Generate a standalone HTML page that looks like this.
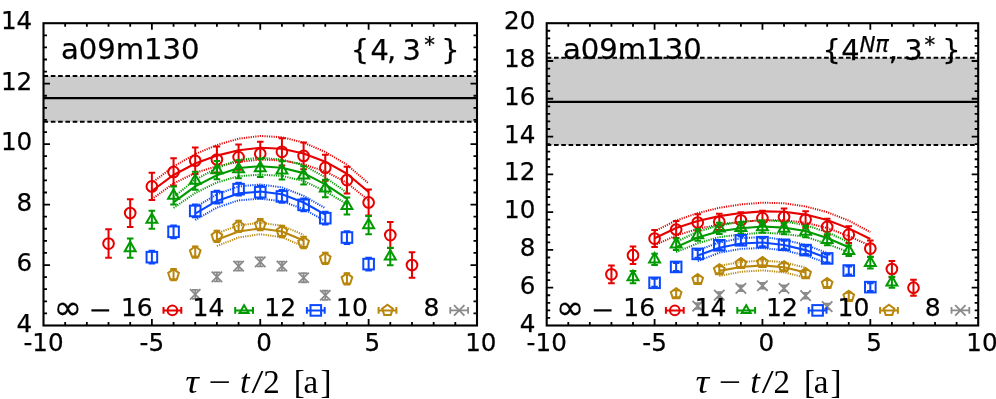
<!DOCTYPE html>
<html><head><meta charset="utf-8"><title>plot</title>
<style>html,body{margin:0;padding:0;background:#fff}svg{display:block}text{font-family:"DejaVu Sans","Liberation Sans",sans-serif;fill:#000;stroke:#000;stroke-width:0.25px}text.sf{font-family:"Liberation Serif","DejaVu Serif",serif;stroke:none}</style>
</head><body>
<svg width="996" height="399" viewBox="0 0 996 399">
<rect width="996" height="399" fill="#fff"/>
<rect x="43.5" y="76.1" width="433.5" height="45.65" fill="#cccccc"/>
<path d="M43.5 76.1H477M43.5 121.75H477" stroke="#000" stroke-width="2" stroke-dasharray="4.6 2.7" fill="none"/>
<path d="M43.5 98.17H477" stroke="#000" stroke-width="2.2" fill="none"/>
<path d="M151.88 182.81 L173.55 166.49 L195.22 154.1 L216.9 145.03 L238.58 138.68 L260.25 135.96 L281.93 137.17 L303.6 142.61 L325.28 151.98 L346.95 164.68 L368.62 183.42 M151.88 199.14 L173.55 183.42 L195.22 172.84 L216.9 166.19 L238.58 161.96 L260.25 159.54 L281.93 160.44 L303.6 164.37 L325.28 171.33 L346.95 182.81 L368.62 200.35" stroke="#e60000" stroke-width="2" stroke-dasharray="1.15 1.15" fill="none"/>
<path d="M151.88 190.98 L173.55 174.95 L195.22 163.47 L216.9 155.61 L238.58 150.32 L260.25 147.75 L281.93 148.81 L303.6 153.49 L325.28 161.65 L346.95 173.75 L368.62 191.88" stroke="#e60000" stroke-width="2.1" fill="none" stroke-linejoin="round"/>
<path d="M108.53 229.37V257.78M105.23 229.37h6.6M105.23 257.78h6.6" stroke="#e60000" stroke-width="2.0" fill="none"/>
<circle cx="108.53" cy="243.58" r="5.35" stroke="#e60000" stroke-width="2.0" fill="none"/>
<path d="M130.2 199.14V226.95M126.9 199.14h6.6M126.9 226.95h6.6" stroke="#e60000" stroke-width="2.0" fill="none"/>
<circle cx="130.2" cy="213.04" r="5.35" stroke="#e60000" stroke-width="2.0" fill="none"/>
<path d="M151.88 172.84V200.05M148.57 172.84h6.6M148.57 200.05h6.6" stroke="#e60000" stroke-width="2.0" fill="none"/>
<circle cx="151.88" cy="186.44" r="5.35" stroke="#e60000" stroke-width="2.0" fill="none"/>
<path d="M173.55 158.33V185.54M170.25 158.33h6.6M170.25 185.54h6.6" stroke="#e60000" stroke-width="2.0" fill="none"/>
<circle cx="173.55" cy="171.93" r="5.35" stroke="#e60000" stroke-width="2.0" fill="none"/>
<path d="M195.22 147.45V174.05M191.92 147.45h6.6M191.92 174.05h6.6" stroke="#e60000" stroke-width="2.0" fill="none"/>
<circle cx="195.22" cy="160.75" r="5.35" stroke="#e60000" stroke-width="2.0" fill="none"/>
<path d="M216.9 146.54V172.54M213.6 146.54h6.6M213.6 172.54h6.6" stroke="#e60000" stroke-width="2.0" fill="none"/>
<circle cx="216.9" cy="159.54" r="5.35" stroke="#e60000" stroke-width="2.0" fill="none"/>
<path d="M238.58 144.42V169.82M235.28 144.42h6.6M235.28 169.82h6.6" stroke="#e60000" stroke-width="2.0" fill="none"/>
<circle cx="238.58" cy="157.12" r="5.35" stroke="#e60000" stroke-width="2.0" fill="none"/>
<path d="M260.25 141.7V165.89M256.95 141.7h6.6M256.95 165.89h6.6" stroke="#e60000" stroke-width="2.0" fill="none"/>
<circle cx="260.25" cy="153.79" r="5.35" stroke="#e60000" stroke-width="2.0" fill="none"/>
<path d="M281.93 138.23V165.43M278.62 138.23h6.6M278.62 165.43h6.6" stroke="#e60000" stroke-width="2.0" fill="none"/>
<circle cx="281.93" cy="151.83" r="5.35" stroke="#e60000" stroke-width="2.0" fill="none"/>
<path d="M303.6 142.61V169.21M300.3 142.61h6.6M300.3 169.21h6.6" stroke="#e60000" stroke-width="2.0" fill="none"/>
<circle cx="303.6" cy="155.91" r="5.35" stroke="#e60000" stroke-width="2.0" fill="none"/>
<path d="M325.28 154.7V180.7M321.98 154.7h6.6M321.98 180.7h6.6" stroke="#e60000" stroke-width="2.0" fill="none"/>
<circle cx="325.28" cy="167.7" r="5.35" stroke="#e60000" stroke-width="2.0" fill="none"/>
<path d="M346.95 166.79V193.39M343.65 166.79h6.6M343.65 193.39h6.6" stroke="#e60000" stroke-width="2.0" fill="none"/>
<circle cx="346.95" cy="180.09" r="5.35" stroke="#e60000" stroke-width="2.0" fill="none"/>
<path d="M368.62 189.47V215.46M365.32 189.47h6.6M365.32 215.46h6.6" stroke="#e60000" stroke-width="2.0" fill="none"/>
<circle cx="368.62" cy="202.46" r="5.35" stroke="#e60000" stroke-width="2.0" fill="none"/>
<path d="M390.3 222.11V248.11M387 222.11h6.6M387 248.11h6.6" stroke="#e60000" stroke-width="2.0" fill="none"/>
<circle cx="390.3" cy="235.11" r="5.35" stroke="#e60000" stroke-width="2.0" fill="none"/>
<path d="M411.98 252.34V277.74M408.68 252.34h6.6M408.68 277.74h6.6" stroke="#e60000" stroke-width="2.0" fill="none"/>
<circle cx="411.98" cy="265.04" r="5.35" stroke="#e60000" stroke-width="2.0" fill="none"/>
<path d="M173.55 197.02 L195.22 179.79 L216.9 168 L238.58 159.84 L260.25 157.72 L281.93 159.54 L303.6 165.28 L325.28 177.37 L346.95 192.79 M173.55 207.91 L195.22 193.09 L216.9 182.51 L238.58 176.16 L260.25 174.65 L281.93 175.86 L303.6 181 L325.28 191.28 L346.95 204.28" stroke="#009a00" stroke-width="2" stroke-dasharray="1.15 1.15" fill="none"/>
<path d="M173.55 202.46 L195.22 186.44 L216.9 175.26 L238.58 168 L260.25 166.19 L281.93 167.7 L303.6 173.14 L325.28 184.33 L346.95 198.53" stroke="#009a00" stroke-width="2.1" fill="none" stroke-linejoin="round"/>
<path d="M130.2 238.44V257.78M126.9 238.44h6.6M126.9 257.78h6.6" stroke="#009a00" stroke-width="2.0" fill="none"/>
<path d="M130.2 241.81L124.74 251.26L135.66 251.26Z" stroke="#009a00" stroke-width="2.0" fill="none" stroke-linejoin="miter"/>
<path d="M151.88 210.63V228.76M148.57 210.63h6.6M148.57 228.76h6.6" stroke="#009a00" stroke-width="2.0" fill="none"/>
<path d="M151.88 213.39L146.42 222.84L157.33 222.84Z" stroke="#009a00" stroke-width="2.0" fill="none" stroke-linejoin="miter"/>
<path d="M173.55 186.44V204.58M170.25 186.44h6.6M170.25 204.58h6.6" stroke="#009a00" stroke-width="2.0" fill="none"/>
<path d="M173.55 189.21L168.09 198.66L179.01 198.66Z" stroke="#009a00" stroke-width="2.0" fill="none" stroke-linejoin="miter"/>
<path d="M195.22 171.63V189.77M191.92 171.63h6.6M191.92 189.77h6.6" stroke="#009a00" stroke-width="2.0" fill="none"/>
<path d="M195.22 174.4L189.77 183.85L200.68 183.85Z" stroke="#009a00" stroke-width="2.0" fill="none" stroke-linejoin="miter"/>
<path d="M216.9 161.05V179.19M213.6 161.05h6.6M213.6 179.19h6.6" stroke="#009a00" stroke-width="2.0" fill="none"/>
<path d="M216.9 163.82L211.44 173.27L222.36 173.27Z" stroke="#009a00" stroke-width="2.0" fill="none" stroke-linejoin="miter"/>
<path d="M238.58 160.14V178.28M235.28 160.14h6.6M235.28 178.28h6.6" stroke="#009a00" stroke-width="2.0" fill="none"/>
<path d="M238.58 162.91L233.12 172.36L244.03 172.36Z" stroke="#009a00" stroke-width="2.0" fill="none" stroke-linejoin="miter"/>
<path d="M260.25 158.93V177.07M256.95 158.93h6.6M256.95 177.07h6.6" stroke="#009a00" stroke-width="2.0" fill="none"/>
<path d="M260.25 161.7L254.79 171.15L265.71 171.15Z" stroke="#009a00" stroke-width="2.0" fill="none" stroke-linejoin="miter"/>
<path d="M281.93 161.35V179.49M278.62 161.35h6.6M278.62 179.49h6.6" stroke="#009a00" stroke-width="2.0" fill="none"/>
<path d="M281.93 164.12L276.47 173.57L287.38 173.57Z" stroke="#009a00" stroke-width="2.0" fill="none" stroke-linejoin="miter"/>
<path d="M303.6 166.34V184.48M300.3 166.34h6.6M300.3 184.48h6.6" stroke="#009a00" stroke-width="2.0" fill="none"/>
<path d="M303.6 169.11L298.14 178.56L309.06 178.56Z" stroke="#009a00" stroke-width="2.0" fill="none" stroke-linejoin="miter"/>
<path d="M325.28 179.64V197.17M321.98 179.64h6.6M321.98 197.17h6.6" stroke="#009a00" stroke-width="2.0" fill="none"/>
<path d="M325.28 182.11L319.82 191.56L330.73 191.56Z" stroke="#009a00" stroke-width="2.0" fill="none" stroke-linejoin="miter"/>
<path d="M346.95 197.48V214.4M343.65 197.48h6.6M343.65 214.4h6.6" stroke="#009a00" stroke-width="2.0" fill="none"/>
<path d="M346.95 199.64L341.49 209.09L352.41 209.09Z" stroke="#009a00" stroke-width="2.0" fill="none" stroke-linejoin="miter"/>
<path d="M368.62 216.07V234.21M365.32 216.07h6.6M365.32 234.21h6.6" stroke="#009a00" stroke-width="2.0" fill="none"/>
<path d="M368.62 218.84L363.17 228.29L374.08 228.29Z" stroke="#009a00" stroke-width="2.0" fill="none" stroke-linejoin="miter"/>
<path d="M390.3 247.66V265.19M387 247.66h6.6M387 265.19h6.6" stroke="#009a00" stroke-width="2.0" fill="none"/>
<path d="M390.3 250.12L384.84 259.57L395.76 259.57Z" stroke="#009a00" stroke-width="2.0" fill="none" stroke-linejoin="miter"/>
<path d="M195.22 207.3 L216.9 194.3 L238.58 186.44 L260.25 184.48 L281.93 187.35 L303.6 195.81 L325.28 208.21 M195.22 220 L216.9 207.6 L238.58 200.35 L260.25 198.69 L281.93 201.25 L303.6 209.11 L325.28 220.9" stroke="#0a48ff" stroke-width="2" stroke-dasharray="1.15 1.15" fill="none"/>
<path d="M195.22 213.65 L216.9 200.95 L238.58 193.39 L260.25 191.58 L281.93 194.3 L303.6 202.46 L325.28 214.56" stroke="#0a48ff" stroke-width="2.1" fill="none" stroke-linejoin="round"/>
<path d="M151.88 250.83V263.53M148.57 250.83h6.6M148.57 263.53h6.6" stroke="#0a48ff" stroke-width="2.0" fill="none"/>
<rect x="146.57" y="251.88" width="10.6" height="10.6" stroke="#0a48ff" stroke-width="2.0" fill="none"/>
<path d="M173.55 225.44V238.14M170.25 225.44h6.6M170.25 238.14h6.6" stroke="#0a48ff" stroke-width="2.0" fill="none"/>
<rect x="168.25" y="226.49" width="10.6" height="10.6" stroke="#0a48ff" stroke-width="2.0" fill="none"/>
<path d="M195.22 204.58V217.28M191.92 204.58h6.6M191.92 217.28h6.6" stroke="#0a48ff" stroke-width="2.0" fill="none"/>
<rect x="189.92" y="205.63" width="10.6" height="10.6" stroke="#0a48ff" stroke-width="2.0" fill="none"/>
<path d="M216.9 190.83V203.52M213.6 190.83h6.6M213.6 203.52h6.6" stroke="#0a48ff" stroke-width="2.0" fill="none"/>
<rect x="211.6" y="191.87" width="10.6" height="10.6" stroke="#0a48ff" stroke-width="2.0" fill="none"/>
<path d="M238.58 182.81V195.51M235.28 182.81h6.6M235.28 195.51h6.6" stroke="#0a48ff" stroke-width="2.0" fill="none"/>
<rect x="233.28" y="183.86" width="10.6" height="10.6" stroke="#0a48ff" stroke-width="2.0" fill="none"/>
<path d="M260.25 185.84V198.53M256.95 185.84h6.6M256.95 198.53h6.6" stroke="#0a48ff" stroke-width="2.0" fill="none"/>
<rect x="254.95" y="186.89" width="10.6" height="10.6" stroke="#0a48ff" stroke-width="2.0" fill="none"/>
<path d="M281.93 190.07V202.77M278.62 190.07h6.6M278.62 202.77h6.6" stroke="#0a48ff" stroke-width="2.0" fill="none"/>
<rect x="276.62" y="191.12" width="10.6" height="10.6" stroke="#0a48ff" stroke-width="2.0" fill="none"/>
<path d="M303.6 198.53V211.23M300.3 198.53h6.6M300.3 211.23h6.6" stroke="#0a48ff" stroke-width="2.0" fill="none"/>
<rect x="298.3" y="199.58" width="10.6" height="10.6" stroke="#0a48ff" stroke-width="2.0" fill="none"/>
<path d="M325.28 211.84V224.53M321.98 211.84h6.6M321.98 224.53h6.6" stroke="#0a48ff" stroke-width="2.0" fill="none"/>
<rect x="319.98" y="212.88" width="10.6" height="10.6" stroke="#0a48ff" stroke-width="2.0" fill="none"/>
<path d="M346.95 231.18V243.88M343.65 231.18h6.6M343.65 243.88h6.6" stroke="#0a48ff" stroke-width="2.0" fill="none"/>
<rect x="341.65" y="232.23" width="10.6" height="10.6" stroke="#0a48ff" stroke-width="2.0" fill="none"/>
<path d="M368.62 257.78V270.48M365.32 257.78h6.6M365.32 270.48h6.6" stroke="#0a48ff" stroke-width="2.0" fill="none"/>
<rect x="363.32" y="258.83" width="10.6" height="10.6" stroke="#0a48ff" stroke-width="2.0" fill="none"/>
<path d="M216.9 233.3 L238.58 225.44 L260.25 222.72 L281.93 225.74 L303.6 234.81 M216.9 246 L238.58 237.53 L260.25 234.21 L281.93 237.23 L303.6 246.3" stroke="#b8860b" stroke-width="2" stroke-dasharray="1.15 1.15" fill="none"/>
<path d="M216.9 239.65 L238.58 231.48 L260.25 228.46 L281.93 231.48 L303.6 240.55" stroke="#b8860b" stroke-width="2.1" fill="none" stroke-linejoin="round"/>
<path d="M173.55 269.06V280.37M170.25 269.06h6.6M170.25 280.37h6.6" stroke="#b8860b" stroke-width="2.0" fill="none"/>
<path d="M173.55 269.11L178.88 272.98L176.84 279.24L170.26 279.24L168.22 272.98Z" stroke="#b8860b" stroke-width="2.0" fill="none"/>
<path d="M195.22 246.39V257.69M191.92 246.39h6.6M191.92 257.69h6.6" stroke="#b8860b" stroke-width="2.0" fill="none"/>
<path d="M195.22 246.44L200.55 250.31L198.52 256.57L191.93 256.57L189.9 250.31Z" stroke="#b8860b" stroke-width="2.0" fill="none"/>
<path d="M216.9 230.67V241.97M213.6 230.67h6.6M213.6 241.97h6.6" stroke="#b8860b" stroke-width="2.0" fill="none"/>
<path d="M216.9 230.72L222.23 234.59L220.19 240.85L213.61 240.85L211.57 234.59Z" stroke="#b8860b" stroke-width="2.0" fill="none"/>
<path d="M238.58 220.69V232M235.28 220.69h6.6M235.28 232h6.6" stroke="#b8860b" stroke-width="2.0" fill="none"/>
<path d="M238.58 220.75L243.9 224.62L241.87 230.88L235.28 230.88L233.25 224.62Z" stroke="#b8860b" stroke-width="2.0" fill="none"/>
<path d="M260.25 219.03V230.34M256.95 219.03h6.6M256.95 230.34h6.6" stroke="#b8860b" stroke-width="2.0" fill="none"/>
<path d="M260.25 219.08L265.58 222.95L263.54 229.21L256.96 229.21L254.92 222.95Z" stroke="#b8860b" stroke-width="2.0" fill="none"/>
<path d="M281.93 225.83V237.14M278.62 225.83h6.6M278.62 237.14h6.6" stroke="#b8860b" stroke-width="2.0" fill="none"/>
<path d="M281.93 225.88L287.25 229.75L285.22 236.02L278.63 236.02L276.6 229.75Z" stroke="#b8860b" stroke-width="2.0" fill="none"/>
<path d="M303.6 236.87V248.17M300.3 236.87h6.6M300.3 248.17h6.6" stroke="#b8860b" stroke-width="2.0" fill="none"/>
<path d="M303.6 236.92L308.93 240.79L306.89 247.05L300.31 247.05L298.27 240.79Z" stroke="#b8860b" stroke-width="2.0" fill="none"/>
<path d="M325.28 252.74V264.04M321.98 252.74h6.6M321.98 264.04h6.6" stroke="#b8860b" stroke-width="2.0" fill="none"/>
<path d="M325.28 252.79L330.6 256.66L328.57 262.92L321.98 262.92L319.95 256.66Z" stroke="#b8860b" stroke-width="2.0" fill="none"/>
<path d="M346.95 273.29V284.6M343.65 273.29h6.6M343.65 284.6h6.6" stroke="#b8860b" stroke-width="2.0" fill="none"/>
<path d="M346.95 273.35L352.28 277.22L350.24 283.48L343.66 283.48L341.62 277.22Z" stroke="#b8860b" stroke-width="2.0" fill="none"/>
<path d="M195.22 289.83V298.9M191.92 289.83h6.6M191.92 298.9h6.6" stroke="#8a8a8a" stroke-width="1.8" fill="none"/>
<path d="M190.03 289.16L200.42 299.56M190.03 299.56L200.42 289.16" stroke="#8a8a8a" stroke-width="1.8" fill="none"/>
<path d="M216.9 272.3V281.36M213.6 272.3h6.6M213.6 281.36h6.6" stroke="#8a8a8a" stroke-width="1.8" fill="none"/>
<path d="M211.7 271.63L222.1 282.03M211.7 282.03L222.1 271.63" stroke="#8a8a8a" stroke-width="1.8" fill="none"/>
<path d="M238.58 261.53V270.6M235.28 261.53h6.6M235.28 270.6h6.6" stroke="#8a8a8a" stroke-width="1.8" fill="none"/>
<path d="M233.38 260.87L243.78 271.27M233.38 271.27L243.78 260.87" stroke="#8a8a8a" stroke-width="1.8" fill="none"/>
<path d="M260.25 257.33V266.4M256.95 257.33h6.6M256.95 266.4h6.6" stroke="#8a8a8a" stroke-width="1.8" fill="none"/>
<path d="M255.05 256.67L265.45 267.07M255.05 267.07L265.45 256.67" stroke="#8a8a8a" stroke-width="1.8" fill="none"/>
<path d="M281.93 261.53V270.6M278.62 261.53h6.6M278.62 270.6h6.6" stroke="#8a8a8a" stroke-width="1.8" fill="none"/>
<path d="M276.73 260.87L287.12 271.27M276.73 271.27L287.12 260.87" stroke="#8a8a8a" stroke-width="1.8" fill="none"/>
<path d="M303.6 273.2V282.27M300.3 273.2h6.6M300.3 282.27h6.6" stroke="#8a8a8a" stroke-width="1.8" fill="none"/>
<path d="M298.4 272.54L308.8 282.94M298.4 282.94L308.8 272.54" stroke="#8a8a8a" stroke-width="1.8" fill="none"/>
<path d="M325.28 290.74V299.8M321.98 290.74h6.6M321.98 299.8h6.6" stroke="#8a8a8a" stroke-width="1.8" fill="none"/>
<path d="M320.08 290.07L330.48 300.47M320.08 300.47L330.48 290.07" stroke="#8a8a8a" stroke-width="1.8" fill="none"/>
<rect x="43.5" y="23.2" width="433.5" height="302.3" fill="none" stroke="#000" stroke-width="2.1"/>
<path d="M65.17 325.5v-3.5M65.17 23.2v3.5M86.85 325.5v-3.5M86.85 23.2v3.5M108.53 325.5v-3.5M108.53 23.2v3.5M130.2 325.5v-3.5M130.2 23.2v3.5M151.88 325.5v-6.5M151.88 23.2v6.5M173.55 325.5v-3.5M173.55 23.2v3.5M195.22 325.5v-3.5M195.22 23.2v3.5M216.9 325.5v-3.5M216.9 23.2v3.5M238.58 325.5v-3.5M238.58 23.2v3.5M260.25 325.5v-6.5M260.25 23.2v6.5M281.93 325.5v-3.5M281.93 23.2v3.5M303.6 325.5v-3.5M303.6 23.2v3.5M325.28 325.5v-3.5M325.28 23.2v3.5M346.95 325.5v-3.5M346.95 23.2v3.5M368.62 325.5v-6.5M368.62 23.2v6.5M390.3 325.5v-3.5M390.3 23.2v3.5M411.98 325.5v-3.5M411.98 23.2v3.5M433.65 325.5v-3.5M433.65 23.2v3.5M455.32 325.5v-3.5M455.32 23.2v3.5M43.5 313.41h3.5M477 313.41h-3.5M43.5 301.32h3.5M477 301.32h-3.5M43.5 289.22h3.5M477 289.22h-3.5M43.5 277.13h3.5M477 277.13h-3.5M43.5 265.04h6.5M477 265.04h-6.5M43.5 252.95h3.5M477 252.95h-3.5M43.5 240.86h3.5M477 240.86h-3.5M43.5 228.76h3.5M477 228.76h-3.5M43.5 216.67h3.5M477 216.67h-3.5M43.5 204.58h6.5M477 204.58h-6.5M43.5 192.49h3.5M477 192.49h-3.5M43.5 180.4h3.5M477 180.4h-3.5M43.5 168.3h3.5M477 168.3h-3.5M43.5 156.21h3.5M477 156.21h-3.5M43.5 144.12h6.5M477 144.12h-6.5M43.5 132.03h3.5M477 132.03h-3.5M43.5 119.94h3.5M477 119.94h-3.5M43.5 107.84h3.5M477 107.84h-3.5M43.5 95.75h3.5M477 95.75h-3.5M43.5 83.66h6.5M477 83.66h-6.5M43.5 71.57h3.5M477 71.57h-3.5M43.5 59.48h3.5M477 59.48h-3.5M43.5 47.38h3.5M477 47.38h-3.5M43.5 35.29h3.5M477 35.29h-3.5" stroke="#000" stroke-width="1.8" fill="none"/>
<text x="32.2" y="331.5" text-anchor="end" font-size="24.6">4</text>
<text x="32.2" y="271.04" text-anchor="end" font-size="24.6">6</text>
<text x="32.2" y="210.58" text-anchor="end" font-size="24.6">8</text>
<text x="32.2" y="150.12" text-anchor="end" font-size="24.6">10</text>
<text x="32.2" y="89.66" text-anchor="end" font-size="24.6">12</text>
<text x="32.2" y="29.2" text-anchor="end" font-size="24.6">14</text>
<text x="43.5" y="350.6" text-anchor="middle" font-size="24.6">-10</text>
<text x="151.88" y="350.6" text-anchor="middle" font-size="24.6">-5</text>
<text x="264.05" y="350.6" text-anchor="middle" font-size="24.6">0</text>
<text x="372.43" y="350.6" text-anchor="middle" font-size="24.6">5</text>
<text x="480.8" y="350.6" text-anchor="middle" font-size="24.6">10</text>
<text x="60.9" y="59.4" font-size="29.1">a09m130</text>
<text transform="translate(185.2 392.6) scale(1.15 1)" font-size="33" class="sf" font-style="italic">τ</text>
<text transform="translate(208.5 392.6) scale(1.2 1)" font-size="33" class="sf">−</text>
<text transform="translate(240 392.6) scale(1.05 1)" font-size="33" class="sf" font-style="italic">t</text>
<text transform="translate(251.5 392.6) scale(1.3 1)" font-size="33" class="sf">/</text>
<text x="263.3" y="392.6" font-size="33" class="sf">2</text>
<text x="293.7" y="392.6" font-size="33" class="sf">[</text>
<text x="303.5" y="392.6" font-size="33" class="sf">a</text>
<text x="320.4" y="392.6" font-size="33" class="sf">]</text>
<text x="82" y="318.6" text-anchor="end" font-size="34">∞</text>
<path d="M91.4 310.4h17.8" stroke="#000" stroke-width="2.2"/>
<text x="152.7" y="316.2" text-anchor="end" font-size="25">16</text>
<path d="M163.5 310.4H181.3M163.5 307.1v6.6M181.3 307.1v6.6" stroke="#e60000" stroke-width="2.0" fill="none"/>
<circle cx="172.4" cy="310.4" r="4.81" stroke="#e60000" stroke-width="2.0" fill="none"/>
<text x="224.4" y="316.2" text-anchor="end" font-size="25">14</text>
<path d="M235.2 310.4H253M235.2 307.1v6.6M253 307.1v6.6" stroke="#009a00" stroke-width="2.0" fill="none"/>
<path d="M244.1 305.17L239.57 313.01L248.63 313.01Z" stroke="#009a00" stroke-width="2.0" fill="none" stroke-linejoin="miter"/>
<text x="296.1" y="316.2" text-anchor="end" font-size="25">12</text>
<path d="M306.9 310.4H324.7M306.9 307.1v6.6M324.7 307.1v6.6" stroke="#0a48ff" stroke-width="2.0" fill="none"/>
<rect x="310.5" y="305.1" width="10.6" height="10.6" stroke="#0a48ff" stroke-width="2.0" fill="none"/>
<text x="367.8" y="316.2" text-anchor="end" font-size="25">10</text>
<path d="M378.6 310.4H396.4M378.6 307.1v6.6M396.4 307.1v6.6" stroke="#b8860b" stroke-width="2.0" fill="none"/>
<path d="M387.5 304.8L392.83 308.67L390.79 314.93L384.21 314.93L382.17 308.67Z" stroke="#b8860b" stroke-width="2.0" fill="none"/>
<text x="439.5" y="316.2" text-anchor="end" font-size="25">8</text>
<path d="M450.3 310.4H468.1M450.3 307.1v6.6M468.1 307.1v6.6" stroke="#8a8a8a" stroke-width="1.8" fill="none"/>
<path d="M454 305.2L464.4 315.6M454 315.6L464.4 305.2" stroke="#8a8a8a" stroke-width="1.8" fill="none"/>
<rect x="546.7" y="57.78" width="431.5" height="87.29" fill="#cccccc"/>
<path d="M546.7 57.78H978.2M546.7 145.06H978.2" stroke="#000" stroke-width="2" stroke-dasharray="4.6 2.7" fill="none"/>
<path d="M546.7 101.8H978.2" stroke="#000" stroke-width="2.2" fill="none"/>
<path d="M654.58 231.22 L676.15 220.45 L697.73 213.08 L719.3 207.79 L740.88 204.39 L762.45 202.69 L784.03 203.26 L805.6 206.47 L827.17 212.14 L848.75 220.64 L870.33 232.16 M654.58 245.2 L676.15 235.57 L697.73 228.95 L719.3 224.42 L740.88 221.77 L762.45 220.07 L784.03 220.26 L805.6 222.72 L827.17 228.01 L848.75 236.13 L870.33 245.77" stroke="#e60000" stroke-width="2" stroke-dasharray="1.15 1.15" fill="none"/>
<path d="M654.58 238.21 L676.15 228.01 L697.73 221.02 L719.3 216.11 L740.88 213.08 L762.45 211.38 L784.03 211.76 L805.6 214.59 L827.17 220.07 L848.75 228.39 L870.33 238.97" stroke="#e60000" stroke-width="2.1" fill="none" stroke-linejoin="round"/>
<path d="M611.43 265.42V283.18M608.13 265.42h6.6M608.13 283.18h6.6" stroke="#e60000" stroke-width="2.0" fill="none"/>
<circle cx="611.43" cy="274.3" r="5.35" stroke="#e60000" stroke-width="2.0" fill="none"/>
<path d="M633 246.52V263.91M629.7 246.52h6.6M629.7 263.91h6.6" stroke="#e60000" stroke-width="2.0" fill="none"/>
<circle cx="633" cy="255.22" r="5.35" stroke="#e60000" stroke-width="2.0" fill="none"/>
<path d="M654.58 230.09V247.09M651.28 230.09h6.6M651.28 247.09h6.6" stroke="#e60000" stroke-width="2.0" fill="none"/>
<circle cx="654.58" cy="238.59" r="5.35" stroke="#e60000" stroke-width="2.0" fill="none"/>
<path d="M676.15 221.02V238.02M672.85 221.02h6.6M672.85 238.02h6.6" stroke="#e60000" stroke-width="2.0" fill="none"/>
<circle cx="676.15" cy="229.52" r="5.35" stroke="#e60000" stroke-width="2.0" fill="none"/>
<path d="M697.73 214.22V230.84M694.43 214.22h6.6M694.43 230.84h6.6" stroke="#e60000" stroke-width="2.0" fill="none"/>
<circle cx="697.73" cy="222.53" r="5.35" stroke="#e60000" stroke-width="2.0" fill="none"/>
<path d="M719.3 213.65V229.9M716 213.65h6.6M716 229.9h6.6" stroke="#e60000" stroke-width="2.0" fill="none"/>
<circle cx="719.3" cy="221.77" r="5.35" stroke="#e60000" stroke-width="2.0" fill="none"/>
<path d="M740.88 212.33V228.2M737.58 212.33h6.6M737.58 228.2h6.6" stroke="#e60000" stroke-width="2.0" fill="none"/>
<circle cx="740.88" cy="220.26" r="5.35" stroke="#e60000" stroke-width="2.0" fill="none"/>
<path d="M762.45 210.63V225.74M759.15 210.63h6.6M759.15 225.74h6.6" stroke="#e60000" stroke-width="2.0" fill="none"/>
<circle cx="762.45" cy="218.18" r="5.35" stroke="#e60000" stroke-width="2.0" fill="none"/>
<path d="M784.03 208.45V225.46M780.73 208.45h6.6M780.73 225.46h6.6" stroke="#e60000" stroke-width="2.0" fill="none"/>
<circle cx="784.03" cy="216.96" r="5.35" stroke="#e60000" stroke-width="2.0" fill="none"/>
<path d="M805.6 211.19V227.82M802.3 211.19h6.6M802.3 227.82h6.6" stroke="#e60000" stroke-width="2.0" fill="none"/>
<circle cx="805.6" cy="219.51" r="5.35" stroke="#e60000" stroke-width="2.0" fill="none"/>
<path d="M827.17 218.75V235M823.88 218.75h6.6M823.88 235h6.6" stroke="#e60000" stroke-width="2.0" fill="none"/>
<circle cx="827.17" cy="226.87" r="5.35" stroke="#e60000" stroke-width="2.0" fill="none"/>
<path d="M848.75 226.31V242.93M845.45 226.31h6.6M845.45 242.93h6.6" stroke="#e60000" stroke-width="2.0" fill="none"/>
<circle cx="848.75" cy="234.62" r="5.35" stroke="#e60000" stroke-width="2.0" fill="none"/>
<path d="M870.33 240.48V256.73M867.03 240.48h6.6M867.03 256.73h6.6" stroke="#e60000" stroke-width="2.0" fill="none"/>
<circle cx="870.33" cy="248.6" r="5.35" stroke="#e60000" stroke-width="2.0" fill="none"/>
<path d="M891.9 260.88V277.13M888.6 260.88h6.6M888.6 277.13h6.6" stroke="#e60000" stroke-width="2.0" fill="none"/>
<circle cx="891.9" cy="269.01" r="5.35" stroke="#e60000" stroke-width="2.0" fill="none"/>
<path d="M913.48 279.78V295.65M910.18 279.78h6.6M910.18 295.65h6.6" stroke="#e60000" stroke-width="2.0" fill="none"/>
<circle cx="913.48" cy="287.71" r="5.35" stroke="#e60000" stroke-width="2.0" fill="none"/>
<path d="M676.15 241.99 L697.73 231.6 L719.3 225.36 L740.88 221.96 L762.45 220.26 L784.03 221.4 L805.6 225.17 L827.17 232.16 L848.75 242.37 M676.15 252.19 L697.73 243.31 L719.3 237.08 L740.88 234.43 L762.45 232.73 L784.03 233.87 L805.6 236.89 L827.17 243.88 L848.75 252.19" stroke="#009a00" stroke-width="2" stroke-dasharray="1.15 1.15" fill="none"/>
<path d="M676.15 247.09 L697.73 237.46 L719.3 231.22 L740.88 228.2 L762.45 226.5 L784.03 227.63 L805.6 231.03 L827.17 238.02 L848.75 247.28" stroke="#009a00" stroke-width="2.1" fill="none" stroke-linejoin="round"/>
<path d="M633 271.09V283.18M629.7 271.09h6.6M629.7 283.18h6.6" stroke="#009a00" stroke-width="2.0" fill="none"/>
<path d="M633 270.83L627.54 280.28L638.46 280.28Z" stroke="#009a00" stroke-width="2.0" fill="none" stroke-linejoin="miter"/>
<path d="M654.58 253.7V265.04M651.28 253.7h6.6M651.28 265.04h6.6" stroke="#009a00" stroke-width="2.0" fill="none"/>
<path d="M654.58 253.07L649.12 262.52L660.03 262.52Z" stroke="#009a00" stroke-width="2.0" fill="none" stroke-linejoin="miter"/>
<path d="M676.15 238.59V249.92M672.85 238.59h6.6M672.85 249.92h6.6" stroke="#009a00" stroke-width="2.0" fill="none"/>
<path d="M676.15 237.96L670.69 247.41L681.61 247.41Z" stroke="#009a00" stroke-width="2.0" fill="none" stroke-linejoin="miter"/>
<path d="M697.73 229.33V240.67M694.43 229.33h6.6M694.43 240.67h6.6" stroke="#009a00" stroke-width="2.0" fill="none"/>
<path d="M697.73 228.7L692.27 238.15L703.18 238.15Z" stroke="#009a00" stroke-width="2.0" fill="none" stroke-linejoin="miter"/>
<path d="M719.3 222.72V234.05M716 222.72h6.6M716 234.05h6.6" stroke="#009a00" stroke-width="2.0" fill="none"/>
<path d="M719.3 222.09L713.84 231.54L724.76 231.54Z" stroke="#009a00" stroke-width="2.0" fill="none" stroke-linejoin="miter"/>
<path d="M740.88 222.15V233.49M737.58 222.15h6.6M737.58 233.49h6.6" stroke="#009a00" stroke-width="2.0" fill="none"/>
<path d="M740.88 221.52L735.42 230.97L746.33 230.97Z" stroke="#009a00" stroke-width="2.0" fill="none" stroke-linejoin="miter"/>
<path d="M762.45 221.4V232.73M759.15 221.4h6.6M759.15 232.73h6.6" stroke="#009a00" stroke-width="2.0" fill="none"/>
<path d="M762.45 220.76L756.99 230.21L767.91 230.21Z" stroke="#009a00" stroke-width="2.0" fill="none" stroke-linejoin="miter"/>
<path d="M784.03 222.91V234.24M780.73 222.91h6.6M780.73 234.24h6.6" stroke="#009a00" stroke-width="2.0" fill="none"/>
<path d="M784.03 222.28L778.57 231.73L789.48 231.73Z" stroke="#009a00" stroke-width="2.0" fill="none" stroke-linejoin="miter"/>
<path d="M805.6 226.02V237.36M802.3 226.02h6.6M802.3 237.36h6.6" stroke="#009a00" stroke-width="2.0" fill="none"/>
<path d="M805.6 225.39L800.14 234.84L811.06 234.84Z" stroke="#009a00" stroke-width="2.0" fill="none" stroke-linejoin="miter"/>
<path d="M827.17 234.34V245.3M823.88 234.34h6.6M823.88 245.3h6.6" stroke="#009a00" stroke-width="2.0" fill="none"/>
<path d="M827.17 233.52L821.72 242.97L832.63 242.97Z" stroke="#009a00" stroke-width="2.0" fill="none" stroke-linejoin="miter"/>
<path d="M848.75 245.48V256.07M845.45 245.48h6.6M845.45 256.07h6.6" stroke="#009a00" stroke-width="2.0" fill="none"/>
<path d="M848.75 244.48L843.29 253.93L854.21 253.93Z" stroke="#009a00" stroke-width="2.0" fill="none" stroke-linejoin="miter"/>
<path d="M870.33 257.1V268.44M867.03 257.1h6.6M867.03 268.44h6.6" stroke="#009a00" stroke-width="2.0" fill="none"/>
<path d="M870.33 256.47L864.87 265.92L875.78 265.92Z" stroke="#009a00" stroke-width="2.0" fill="none" stroke-linejoin="miter"/>
<path d="M891.9 276.85V287.81M888.6 276.85h6.6M888.6 287.81h6.6" stroke="#009a00" stroke-width="2.0" fill="none"/>
<path d="M891.9 276.03L886.44 285.48L897.36 285.48Z" stroke="#009a00" stroke-width="2.0" fill="none" stroke-linejoin="miter"/>
<path d="M697.73 250.11 L719.3 242.56 L740.88 238.21 L762.45 237.08 L784.03 239.72 L805.6 244.82 L827.17 252.95 M697.73 261.07 L719.3 252.76 L740.88 248.79 L762.45 248.04 L784.03 250.3 L805.6 255.4 L827.17 263.15" stroke="#0a48ff" stroke-width="2" stroke-dasharray="1.15 1.15" fill="none"/>
<path d="M697.73 255.59 L719.3 247.66 L740.88 243.5 L762.45 242.56 L784.03 245.01 L805.6 250.11 L827.17 258.05" stroke="#0a48ff" stroke-width="2.1" fill="none" stroke-linejoin="round"/>
<path d="M654.58 278.83V286.77M651.28 278.83h6.6M651.28 286.77h6.6" stroke="#0a48ff" stroke-width="2.0" fill="none"/>
<rect x="649.28" y="277.5" width="10.6" height="10.6" stroke="#0a48ff" stroke-width="2.0" fill="none"/>
<path d="M676.15 262.96V270.9M672.85 262.96h6.6M672.85 270.9h6.6" stroke="#0a48ff" stroke-width="2.0" fill="none"/>
<rect x="670.85" y="261.63" width="10.6" height="10.6" stroke="#0a48ff" stroke-width="2.0" fill="none"/>
<path d="M697.73 249.92V257.86M694.43 249.92h6.6M694.43 257.86h6.6" stroke="#0a48ff" stroke-width="2.0" fill="none"/>
<rect x="692.43" y="248.59" width="10.6" height="10.6" stroke="#0a48ff" stroke-width="2.0" fill="none"/>
<path d="M719.3 241.33V249.26M716 241.33h6.6M716 249.26h6.6" stroke="#0a48ff" stroke-width="2.0" fill="none"/>
<rect x="714" y="240" width="10.6" height="10.6" stroke="#0a48ff" stroke-width="2.0" fill="none"/>
<path d="M740.88 236.32V244.26M737.58 236.32h6.6M737.58 244.26h6.6" stroke="#0a48ff" stroke-width="2.0" fill="none"/>
<rect x="735.58" y="234.99" width="10.6" height="10.6" stroke="#0a48ff" stroke-width="2.0" fill="none"/>
<path d="M762.45 238.21V246.15M759.15 238.21h6.6M759.15 246.15h6.6" stroke="#0a48ff" stroke-width="2.0" fill="none"/>
<rect x="757.15" y="236.88" width="10.6" height="10.6" stroke="#0a48ff" stroke-width="2.0" fill="none"/>
<path d="M784.03 240.86V248.79M780.73 240.86h6.6M780.73 248.79h6.6" stroke="#0a48ff" stroke-width="2.0" fill="none"/>
<rect x="778.73" y="239.52" width="10.6" height="10.6" stroke="#0a48ff" stroke-width="2.0" fill="none"/>
<path d="M805.6 246.15V254.08M802.3 246.15h6.6M802.3 254.08h6.6" stroke="#0a48ff" stroke-width="2.0" fill="none"/>
<rect x="800.3" y="244.81" width="10.6" height="10.6" stroke="#0a48ff" stroke-width="2.0" fill="none"/>
<path d="M827.17 254.46V262.39M823.88 254.46h6.6M823.88 262.39h6.6" stroke="#0a48ff" stroke-width="2.0" fill="none"/>
<rect x="821.88" y="253.13" width="10.6" height="10.6" stroke="#0a48ff" stroke-width="2.0" fill="none"/>
<path d="M848.75 266.55V274.49M845.45 266.55h6.6M845.45 274.49h6.6" stroke="#0a48ff" stroke-width="2.0" fill="none"/>
<rect x="843.45" y="265.22" width="10.6" height="10.6" stroke="#0a48ff" stroke-width="2.0" fill="none"/>
<path d="M870.33 283.18V291.11M867.03 283.18h6.6M867.03 291.11h6.6" stroke="#0a48ff" stroke-width="2.0" fill="none"/>
<rect x="865.03" y="281.85" width="10.6" height="10.6" stroke="#0a48ff" stroke-width="2.0" fill="none"/>
<path d="M719.3 265.8 L740.88 262.02 L762.45 260.51 L784.03 262.21 L805.6 267.69 M719.3 276 L740.88 271.84 L762.45 270.33 L784.03 272.41 L805.6 277.51" stroke="#b8860b" stroke-width="2" stroke-dasharray="1.15 1.15" fill="none"/>
<path d="M719.3 270.9 L740.88 266.93 L762.45 265.42 L784.03 267.31 L805.6 272.6" stroke="#b8860b" stroke-width="2.1" fill="none" stroke-linejoin="round"/>
<path d="M676.15 290.23V297.29M672.85 290.23h6.6M672.85 297.29h6.6" stroke="#b8860b" stroke-width="2.0" fill="none"/>
<path d="M676.15 288.16L681.48 292.03L679.44 298.29L672.86 298.29L670.82 292.03Z" stroke="#b8860b" stroke-width="2.0" fill="none"/>
<path d="M697.73 276.06V283.12M694.43 276.06h6.6M694.43 283.12h6.6" stroke="#b8860b" stroke-width="2.0" fill="none"/>
<path d="M697.73 273.99L703.05 277.86L701.02 284.12L694.43 284.12L692.4 277.86Z" stroke="#b8860b" stroke-width="2.0" fill="none"/>
<path d="M719.3 266.23V273.3M716 266.23h6.6M716 273.3h6.6" stroke="#b8860b" stroke-width="2.0" fill="none"/>
<path d="M719.3 264.16L724.63 268.03L722.59 274.29L716.01 274.29L713.97 268.03Z" stroke="#b8860b" stroke-width="2.0" fill="none"/>
<path d="M740.88 260V267.06M737.58 260h6.6M737.58 267.06h6.6" stroke="#b8860b" stroke-width="2.0" fill="none"/>
<path d="M740.88 257.93L746.2 261.8L744.17 268.06L737.58 268.06L735.55 261.8Z" stroke="#b8860b" stroke-width="2.0" fill="none"/>
<path d="M762.45 258.96V266.02M759.15 258.96h6.6M759.15 266.02h6.6" stroke="#b8860b" stroke-width="2.0" fill="none"/>
<path d="M762.45 256.89L767.78 260.76L765.74 267.02L759.16 267.02L757.12 260.76Z" stroke="#b8860b" stroke-width="2.0" fill="none"/>
<path d="M784.03 263.21V270.27M780.73 263.21h6.6M780.73 270.27h6.6" stroke="#b8860b" stroke-width="2.0" fill="none"/>
<path d="M784.03 261.14L789.35 265.01L787.32 271.27L780.73 271.27L778.7 265.01Z" stroke="#b8860b" stroke-width="2.0" fill="none"/>
<path d="M805.6 270.1V277.17M802.3 270.1h6.6M802.3 277.17h6.6" stroke="#b8860b" stroke-width="2.0" fill="none"/>
<path d="M805.6 268.04L810.93 271.91L808.89 278.17L802.31 278.17L800.27 271.91Z" stroke="#b8860b" stroke-width="2.0" fill="none"/>
<path d="M827.17 280.02V287.09M823.88 280.02h6.6M823.88 287.09h6.6" stroke="#b8860b" stroke-width="2.0" fill="none"/>
<path d="M827.17 277.96L832.5 281.83L830.47 288.09L823.88 288.09L821.85 281.83Z" stroke="#b8860b" stroke-width="2.0" fill="none"/>
<path d="M848.75 292.87V299.94M845.45 292.87h6.6M845.45 299.94h6.6" stroke="#b8860b" stroke-width="2.0" fill="none"/>
<path d="M848.75 290.8L854.08 294.67L852.04 300.93L845.46 300.93L843.42 294.67Z" stroke="#b8860b" stroke-width="2.0" fill="none"/>
<path d="M697.73 303.21V308.87M694.43 303.21h6.6M694.43 308.87h6.6" stroke="#8a8a8a" stroke-width="1.8" fill="none"/>
<path d="M692.52 300.84L702.93 311.24M692.52 311.24L702.93 300.84" stroke="#8a8a8a" stroke-width="1.8" fill="none"/>
<path d="M719.3 292.25V297.92M716 292.25h6.6M716 297.92h6.6" stroke="#8a8a8a" stroke-width="1.8" fill="none"/>
<path d="M714.1 289.88L724.5 300.28M714.1 300.28L724.5 289.88" stroke="#8a8a8a" stroke-width="1.8" fill="none"/>
<path d="M740.88 285.52V291.19M737.58 285.52h6.6M737.58 291.19h6.6" stroke="#8a8a8a" stroke-width="1.8" fill="none"/>
<path d="M735.67 283.15L746.08 293.55M735.67 293.55L746.08 283.15" stroke="#8a8a8a" stroke-width="1.8" fill="none"/>
<path d="M762.45 282.89V288.56M759.15 282.89h6.6M759.15 288.56h6.6" stroke="#8a8a8a" stroke-width="1.8" fill="none"/>
<path d="M757.25 280.53L767.65 290.93M757.25 290.93L767.65 280.53" stroke="#8a8a8a" stroke-width="1.8" fill="none"/>
<path d="M784.03 285.52V291.19M780.73 285.52h6.6M780.73 291.19h6.6" stroke="#8a8a8a" stroke-width="1.8" fill="none"/>
<path d="M778.83 283.15L789.23 293.55M778.83 293.55L789.23 283.15" stroke="#8a8a8a" stroke-width="1.8" fill="none"/>
<path d="M805.6 292.81V298.48M802.3 292.81h6.6M802.3 298.48h6.6" stroke="#8a8a8a" stroke-width="1.8" fill="none"/>
<path d="M800.4 290.45L810.8 300.85M800.4 300.85L810.8 290.45" stroke="#8a8a8a" stroke-width="1.8" fill="none"/>
<path d="M827.17 303.77V309.44M823.88 303.77h6.6M823.88 309.44h6.6" stroke="#8a8a8a" stroke-width="1.8" fill="none"/>
<path d="M821.97 301.41L832.38 311.81M821.97 311.81L832.38 301.41" stroke="#8a8a8a" stroke-width="1.8" fill="none"/>
<rect x="546.7" y="23.2" width="431.5" height="302.3" fill="none" stroke="#000" stroke-width="2.1"/>
<path d="M568.28 325.5v-3.5M568.28 23.2v3.5M589.85 325.5v-3.5M589.85 23.2v3.5M611.43 325.5v-3.5M611.43 23.2v3.5M633 325.5v-3.5M633 23.2v3.5M654.58 325.5v-6.5M654.58 23.2v6.5M676.15 325.5v-3.5M676.15 23.2v3.5M697.73 325.5v-3.5M697.73 23.2v3.5M719.3 325.5v-3.5M719.3 23.2v3.5M740.88 325.5v-3.5M740.88 23.2v3.5M762.45 325.5v-6.5M762.45 23.2v6.5M784.03 325.5v-3.5M784.03 23.2v3.5M805.6 325.5v-3.5M805.6 23.2v3.5M827.17 325.5v-3.5M827.17 23.2v3.5M848.75 325.5v-3.5M848.75 23.2v3.5M870.33 325.5v-6.5M870.33 23.2v6.5M891.9 325.5v-3.5M891.9 23.2v3.5M913.48 325.5v-3.5M913.48 23.2v3.5M935.05 325.5v-3.5M935.05 23.2v3.5M956.62 325.5v-3.5M956.62 23.2v3.5M546.7 317.94h3.5M978.2 317.94h-3.5M546.7 310.38h3.5M978.2 310.38h-3.5M546.7 302.83h3.5M978.2 302.83h-3.5M546.7 295.27h3.5M978.2 295.27h-3.5M546.7 287.71h6.5M978.2 287.71h-6.5M546.7 280.15h3.5M978.2 280.15h-3.5M546.7 272.6h3.5M978.2 272.6h-3.5M546.7 265.04h3.5M978.2 265.04h-3.5M546.7 257.48h3.5M978.2 257.48h-3.5M546.7 249.93h6.5M978.2 249.93h-6.5M546.7 242.37h3.5M978.2 242.37h-3.5M546.7 234.81h3.5M978.2 234.81h-3.5M546.7 227.25h3.5M978.2 227.25h-3.5M546.7 219.69h3.5M978.2 219.69h-3.5M546.7 212.14h6.5M978.2 212.14h-6.5M546.7 204.58h3.5M978.2 204.58h-3.5M546.7 197.02h3.5M978.2 197.02h-3.5M546.7 189.47h3.5M978.2 189.47h-3.5M546.7 181.91h3.5M978.2 181.91h-3.5M546.7 174.35h6.5M978.2 174.35h-6.5M546.7 166.79h3.5M978.2 166.79h-3.5M546.7 159.23h3.5M978.2 159.23h-3.5M546.7 151.68h3.5M978.2 151.68h-3.5M546.7 144.12h3.5M978.2 144.12h-3.5M546.7 136.56h6.5M978.2 136.56h-6.5M546.7 129h3.5M978.2 129h-3.5M546.7 121.45h3.5M978.2 121.45h-3.5M546.7 113.89h3.5M978.2 113.89h-3.5M546.7 106.33h3.5M978.2 106.33h-3.5M546.7 98.77h6.5M978.2 98.77h-6.5M546.7 91.22h3.5M978.2 91.22h-3.5M546.7 83.66h3.5M978.2 83.66h-3.5M546.7 76.1h3.5M978.2 76.1h-3.5M546.7 68.54h3.5M978.2 68.54h-3.5M546.7 60.99h6.5M978.2 60.99h-6.5M546.7 53.43h3.5M978.2 53.43h-3.5M546.7 45.87h3.5M978.2 45.87h-3.5M546.7 38.31h3.5M978.2 38.31h-3.5M546.7 30.76h3.5M978.2 30.76h-3.5" stroke="#000" stroke-width="1.8" fill="none"/>
<text x="535.4" y="331.5" text-anchor="end" font-size="24.6">4</text>
<text x="535.4" y="293.71" text-anchor="end" font-size="24.6">6</text>
<text x="535.4" y="255.93" text-anchor="end" font-size="24.6">8</text>
<text x="535.4" y="218.14" text-anchor="end" font-size="24.6">10</text>
<text x="535.4" y="180.35" text-anchor="end" font-size="24.6">12</text>
<text x="535.4" y="142.56" text-anchor="end" font-size="24.6">14</text>
<text x="535.4" y="104.77" text-anchor="end" font-size="24.6">16</text>
<text x="535.4" y="66.99" text-anchor="end" font-size="24.6">18</text>
<text x="535.4" y="29.2" text-anchor="end" font-size="24.6">20</text>
<text x="546.7" y="350.6" text-anchor="middle" font-size="24.6">-10</text>
<text x="654.58" y="350.6" text-anchor="middle" font-size="24.6">-5</text>
<text x="766.25" y="350.6" text-anchor="middle" font-size="24.6">0</text>
<text x="874.12" y="350.6" text-anchor="middle" font-size="24.6">5</text>
<text x="982" y="350.6" text-anchor="middle" font-size="24.6">10</text>
<text x="563" y="59.4" font-size="29.1">a09m130</text>
<text transform="translate(695.4 392.6) scale(1.15 1)" font-size="33" class="sf" font-style="italic">τ</text>
<text transform="translate(718.7 392.6) scale(1.2 1)" font-size="33" class="sf">−</text>
<text transform="translate(750.2 392.6) scale(1.05 1)" font-size="33" class="sf" font-style="italic">t</text>
<text transform="translate(761.7 392.6) scale(1.3 1)" font-size="33" class="sf">/</text>
<text x="773.5" y="392.6" font-size="33" class="sf">2</text>
<text x="803.9" y="392.6" font-size="33" class="sf">[</text>
<text x="813.7" y="392.6" font-size="33" class="sf">a</text>
<text x="830.6" y="392.6" font-size="33" class="sf">]</text>
<text x="584.4" y="318.6" text-anchor="end" font-size="34">∞</text>
<path d="M593.8 310.4h17.8" stroke="#000" stroke-width="2.2"/>
<text x="655.1" y="316.2" text-anchor="end" font-size="25">16</text>
<path d="M665.9 310.4H683.7M665.9 307.1v6.6M683.7 307.1v6.6" stroke="#e60000" stroke-width="2.0" fill="none"/>
<circle cx="674.8" cy="310.4" r="4.81" stroke="#e60000" stroke-width="2.0" fill="none"/>
<text x="726.5" y="316.2" text-anchor="end" font-size="25">14</text>
<path d="M737.3 310.4H755.1M737.3 307.1v6.6M755.1 307.1v6.6" stroke="#009a00" stroke-width="2.0" fill="none"/>
<path d="M746.2 305.17L741.67 313.01L750.73 313.01Z" stroke="#009a00" stroke-width="2.0" fill="none" stroke-linejoin="miter"/>
<text x="797.9" y="316.2" text-anchor="end" font-size="25">12</text>
<path d="M808.7 310.4H826.5M808.7 307.1v6.6M826.5 307.1v6.6" stroke="#0a48ff" stroke-width="2.0" fill="none"/>
<rect x="812.3" y="305.1" width="10.6" height="10.6" stroke="#0a48ff" stroke-width="2.0" fill="none"/>
<text x="869.3" y="316.2" text-anchor="end" font-size="25">10</text>
<path d="M880.1 310.4H897.9M880.1 307.1v6.6M897.9 307.1v6.6" stroke="#b8860b" stroke-width="2.0" fill="none"/>
<path d="M889 304.8L894.33 308.67L892.29 314.93L885.71 314.93L883.67 308.67Z" stroke="#b8860b" stroke-width="2.0" fill="none"/>
<text x="940.7" y="316.2" text-anchor="end" font-size="25">8</text>
<path d="M951.5 310.4H969.3M951.5 307.1v6.6M969.3 307.1v6.6" stroke="#8a8a8a" stroke-width="1.8" fill="none"/>
<path d="M955.2 305.2L965.6 315.6M955.2 315.6L965.6 305.2" stroke="#8a8a8a" stroke-width="1.8" fill="none"/>
<text y="59.6" font-size="28.8"><tspan x="350.8">{</tspan><tspan x="370.4">4</tspan><tspan x="387">,</tspan><tspan x="402.6">3</tspan><tspan x="441.2">}</tspan></text>
<text x="424.2" y="52.2" font-size="21.5">*</text>
<text y="59.6" font-size="28.8"><tspan x="822.6">{</tspan><tspan x="841.3">4</tspan><tspan x="888.8">,</tspan><tspan x="904.2">3</tspan><tspan x="942.2">}</tspan></text>
<text x="924.4" y="52.2" font-size="21.5">*</text>
<text x="859.5" y="51.6" font-size="21.4" font-style="italic">N<tspan x="875.2" font-size="22.5">π</tspan></text>
</svg>
</body></html>
